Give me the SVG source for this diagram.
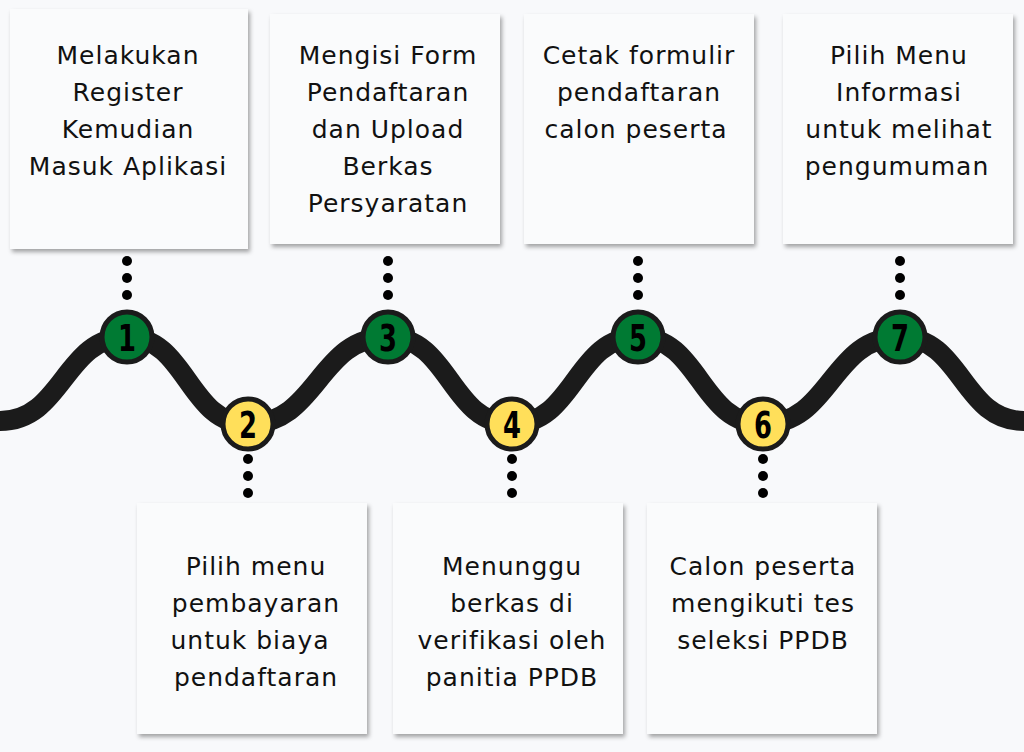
<svg xmlns="http://www.w3.org/2000/svg" width="1024" height="752" viewBox="0 0 1024 752">
<defs>
<filter id="sh" x="-10%" y="-10%" width="125%" height="125%">
<feDropShadow dx="2" dy="3" stdDeviation="2" flood-color="#000" flood-opacity="0.35"/>
</filter>
<style>
.card{fill:#fafbfc;filter:url(#sh)}
.t{font-family:"DejaVu Sans","Open Sans",sans-serif;font-size:25px;letter-spacing:1px;fill:#111;text-anchor:middle}
.dot{fill:#000}
.g{fill:#007a33;stroke:#1b1b1b;stroke-width:5}
.y{fill:#ffdf5a;stroke:#1b1b1b;stroke-width:5}
.n{font-family:"DejaVu Sans",sans-serif;font-weight:bold;font-size:38px;fill:#000;text-anchor:middle}
</style>
</defs>
<rect width="1024" height="752" fill="#f8f9fb"/>
<g id="connectors">
<path d="M -20 421 L 0 421 C 63 421 64 337 127 337 C 187 337 188 424 248 424 C 318 424 318 337 388 337 C 450 337 450 424 512 424 C 575 424 575 337 638 337 C 700 337 700 424 763 424 C 831 424 831 337 900 337 C 962 337 962 421 1024 421 L 1044 421" fill="none" stroke="#1b1b1b" stroke-width="20"/>
<g class="dot">
<circle cx="127" cy="261" r="5"/><circle cx="127" cy="278" r="5"/><circle cx="127" cy="295" r="5"/>
<circle cx="388" cy="261" r="5"/><circle cx="388" cy="278" r="5"/><circle cx="388" cy="295" r="5"/>
<circle cx="638" cy="261" r="5"/><circle cx="638" cy="278" r="5"/><circle cx="638" cy="295" r="5"/>
<circle cx="900" cy="261" r="5"/><circle cx="900" cy="278" r="5"/><circle cx="900" cy="295" r="5"/>
<circle cx="248" cy="459" r="5"/><circle cx="248" cy="476" r="5"/><circle cx="248" cy="493" r="5"/>
<circle cx="512" cy="459" r="5"/><circle cx="512" cy="476" r="5"/><circle cx="512" cy="493" r="5"/>
<circle cx="763" cy="459" r="5"/><circle cx="763" cy="476" r="5"/><circle cx="763" cy="493" r="5"/>
</g>
</g>
<g id="card1"><rect class="card" x="10" y="9" width="238" height="240"/>
<text class="t" x="128"><tspan x="128" y="64">Melakukan</tspan><tspan x="128" y="101">Register</tspan><tspan x="128" y="138">Kemudian</tspan><tspan x="128" y="175">Masuk Aplikasi</tspan></text></g>
<g id="card3"><rect class="card" x="270" y="14" width="230" height="230"/>
<text class="t"><tspan x="388" y="64">Mengisi Form</tspan><tspan x="388" y="101">Pendaftaran</tspan><tspan x="388" y="138">dan Upload</tspan><tspan x="388" y="175">Berkas</tspan><tspan x="388" y="212">Persyaratan</tspan></text></g>
<g id="card5"><rect class="card" x="524" y="14" width="230" height="230"/>
<text class="t"><tspan x="639" y="64">Cetak formulir</tspan><tspan x="639" y="101">pendaftaran</tspan><tspan x="636" y="138">calon peserta</tspan></text></g>
<g id="card7"><rect class="card" x="783" y="14" width="230" height="230"/>
<text class="t"><tspan x="899" y="64">Pilih Menu</tspan><tspan x="899" y="101">Informasi</tspan><tspan x="899" y="138">untuk melihat</tspan><tspan x="897" y="175">pengumuman</tspan></text></g>
<g id="card2"><rect class="card" x="137" y="503" width="230" height="231"/>
<text class="t"><tspan x="256" y="575">Pilih menu</tspan><tspan x="256" y="612">pembayaran</tspan><tspan x="250" y="649">untuk biaya</tspan><tspan x="256" y="686">pendaftaran</tspan></text></g>
<g id="card4"><rect class="card" x="393" y="503" width="230" height="231"/>
<text class="t"><tspan x="512" y="575">Menunggu</tspan><tspan x="512" y="612">berkas di</tspan><tspan x="512" y="649">verifikasi oleh</tspan><tspan x="512" y="686">panitia PPDB</tspan></text></g>
<g id="card6"><rect class="card" x="647" y="503" width="230" height="231"/>
<text class="t"><tspan x="763" y="575">Calon peserta</tspan><tspan x="763" y="612">mengikuti tes</tspan><tspan x="763" y="649">seleksi PPDB</tspan></text></g>
<g id="step1"><circle class="g" cx="127" cy="337" r="25"/><text class="n" transform="translate(127 351) scale(0.68 1)">1</text></g>
<g id="step2"><circle class="y" cx="248" cy="424" r="25"/><text class="n" transform="translate(248 438) scale(0.68 1)">2</text></g>
<g id="step3"><circle class="g" cx="388" cy="337" r="25"/><text class="n" transform="translate(388 351) scale(0.68 1)">3</text></g>
<g id="step4"><circle class="y" cx="512" cy="424" r="25"/><text class="n" transform="translate(512 438) scale(0.68 1)">4</text></g>
<g id="step5"><circle class="g" cx="638" cy="337" r="25"/><text class="n" transform="translate(638 351) scale(0.68 1)">5</text></g>
<g id="step6"><circle class="y" cx="763" cy="424" r="25"/><text class="n" transform="translate(763 438) scale(0.68 1)">6</text></g>
<g id="step7"><circle class="g" cx="900" cy="337" r="25"/><text class="n" transform="translate(900 351) scale(0.68 1)">7</text></g>
</svg>
